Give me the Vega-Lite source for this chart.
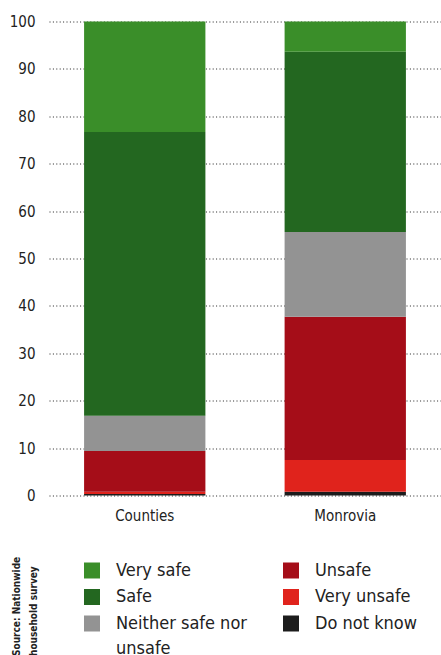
{
  "$schema": "https://vega.github.io/schema/vega-lite/v6.json",
  "autosize": "none",
  "width": 392,
  "height": 474,
  "padding": {"left": 49, "top": 21.5, "right": 0, "bottom": 159.5},
  "background": "white",
  "data": {
    "values": [
      {"area": "Counties", "answer": "Do not know", "share": 0.3},
      {"area": "Counties", "answer": "Very unsafe", "share": 0.5},
      {"area": "Counties", "answer": "Unsafe", "share": 8.6},
      {"area": "Counties", "answer": "Neither safe nor unsafe", "share": 7.4},
      {"area": "Counties", "answer": "Safe", "share": 59.9},
      {"area": "Counties", "answer": "Very safe", "share": 23.3},
      {"area": "Monrovia", "answer": "Do not know", "share": 0.8},
      {"area": "Monrovia", "answer": "Very unsafe", "share": 6.7},
      {"area": "Monrovia", "answer": "Unsafe", "share": 30.2},
      {"area": "Monrovia", "answer": "Neither safe nor unsafe", "share": 17.9},
      {"area": "Monrovia", "answer": "Safe", "share": 38.0},
      {"area": "Monrovia", "answer": "Very safe", "share": 6.4}
    ]
  },
  "transform": [
    {
      "calculate": "indexof(['Do not know', 'Very unsafe', 'Unsafe', 'Neither safe nor unsafe', 'Safe', 'Very safe'], datum.answer)",
      "as": "stack_rank"
    }
  ],
  "mark": "bar",
  "encoding": {
    "x": {
      "field": "area",
      "type": "nominal",
      "scale": {"paddingInner": 0.395, "paddingOuter": 0.175},
      "axis": {
        "title": null,
        "labelAngle": 0,
        "labelFontSize": 15,
        "labelPadding": 13,
        "labelColor": "#222222",
        "ticks": false,
        "domain": false
      }
    },
    "y": {
      "field": "share",
      "type": "quantitative",
      "stack": "zero",
      "scale": {"domain": [0, 100], "nice": false},
      "axis": {
        "values": [0, 10, 20, 30, 40, 50, 60, 70, 80, 90, 100],
        "labelFontSize": 15,
        "labelPadding": 14,
        "labelColor": "#222222",
        "ticks": false,
        "domain": false,
        "grid": true,
        "gridColor": "#222222",
        "gridDash": [1, 2.4],
        "gridWidth": 1,
        "gridOpacity": 1,
        "title": ["Source: Nationwide", "household survey"],
        "titleAngle": 270,
        "titleFontSize": 10,
        "titleFontWeight": "bold",
        "titleLineHeight": 17,
        "titleAlign": "left",
        "titleBaseline": "middle",
        "titleColor": "#222222",
        "titleX": -33,
        "titleY": 634
      }
    },
    "order": {"field": "stack_rank", "type": "quantitative"},
    "color": {
      "field": "answer",
      "type": "nominal",
      "scale": {
        "domain": ["Do not know", "Very unsafe", "Unsafe", "Neither safe nor unsafe", "Safe", "Very safe"],
        "range": ["#1c1c1c", "#e0231c", "#a50d18", "#939393", "#236720", "#3a8e29"]
      },
      "legend": {
        "title": null,
        "orient": "none",
        "legendX": 34,
        "legendY": 540,
        "columns": 2,
        "values": ["Very safe", "Safe", "Neither safe nor unsafe", "Unsafe", "Very unsafe", "Do not know"],
        "symbolType": "square",
        "symbolSize": 256,
        "symbolStrokeWidth": 0,
        "symbolOpacity": 1,
        "labelFontSize": 18,
        "labelColor": "#222222",
        "labelOffset": 15,
        "labelLimit": 300,
        "labelExpr": "datum.label == 'Neither safe nor unsafe' ? ['Neither safe nor', 'unsafe'] : datum.label",
        "rowPadding": 8.5,
        "columnPadding": 35,
        "padding": 0,
        "encode": {"labels": {"update": {"lineHeight": {"value": 25}}}}
      }
    }
  },
  "config": {
    "font": "DejaVu Sans Condensed",
    "view": {"stroke": null}
  }
}
